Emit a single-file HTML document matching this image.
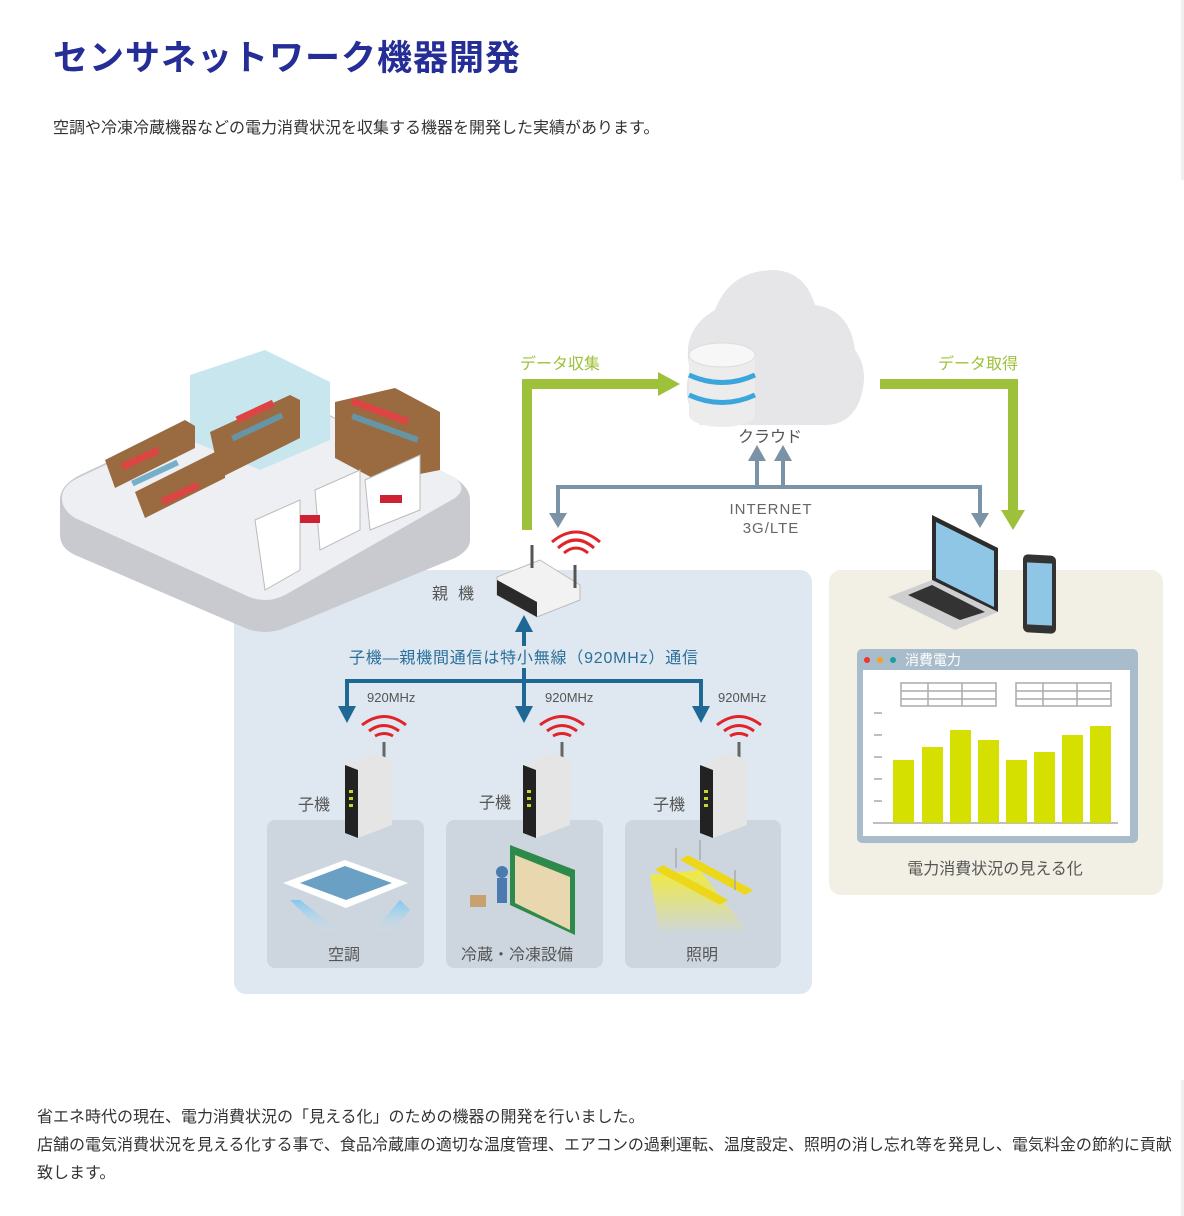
<!DOCTYPE html>
<html><head><meta charset="utf-8"><style>
body{margin:0;width:1184px;height:1216px;background:#fff;position:relative;overflow:hidden;font-family:"Liberation Sans","Noto Sans CJK JP",sans-serif;}
.t{position:absolute;white-space:nowrap;}
</style></head><body>
<div style="position:absolute;left:1181px;top:0;width:3px;height:180px;background:#eef0f3"></div>
<div style="position:absolute;left:1181px;top:1080px;width:3px;height:136px;background:#eef0f3"></div>
<div class="t" style="left:53px;top:30px;font-size:35px;color:#252d96;font-weight:bold;letter-spacing:1px">センサネットワーク機器開発</div>
<div class="t" style="left:53px;top:114px;font-size:16px;color:#333">空調や冷凍冷蔵機器などの電力消費状況を収集する機器を開発した実績があります。</div>
<svg style="position:absolute;left:0;top:0" width="1184" height="1216" font-family="Liberation Sans, Noto Sans CJK JP, sans-serif">
<defs>
<linearGradient id="ac" x1="0" y1="0" x2="0" y2="1"><stop offset="0" stop-color="#7fc8f0"/><stop offset="1" stop-color="#cfe0ec" stop-opacity="0"/></linearGradient>
<linearGradient id="lt" x1="0" y1="0" x2="0" y2="1"><stop offset="0" stop-color="#f0ea40"/><stop offset="1" stop-color="#f0ea40" stop-opacity="0"/></linearGradient>
</defs>
<rect x="234" y="570" width="578" height="424" rx="12" fill="#dfe8f0"/>
<rect x="829" y="570" width="334" height="325" rx="12" fill="#f2f0e4"/>
<rect x="267" y="820" width="157" height="148" rx="8" fill="#cdd6df"/>
<rect x="446" y="820" width="157" height="148" rx="8" fill="#cdd6df"/>
<rect x="625" y="820" width="156" height="148" rx="8" fill="#cdd6df"/>
<path d="M60 500 Q60 485 80 475 L250 395 Q270 385 290 395 L455 478 Q470 488 470 500 L470 540 Q470 550 455 558 L285 628 Q265 636 245 628 L75 555 Q60 548 60 535 Z" fill="#c9cacf"/>
<path d="M62 498 Q62 485 80 477 L250 397 Q270 387 290 397 L455 478 Q468 488 455 498 L285 595 Q265 605 245 595 L75 518 Q62 510 62 498Z" fill="#eeeff2"/>
<path d="M190 375 L265 350 L330 382 L330 440 L260 470 L190 440Z" fill="#c8e6ee"/>
<g fill="#9a6a40"><path d="M105 460 L185 420 L195 426 L195 448 L115 488Z"/><path d="M135 492 L215 452 L225 458 L225 478 L145 518Z"/><path d="M210 432 L290 395 L300 400 L300 438 L220 478Z"/><path d="M335 402 L395 388 L440 412 L440 470 L380 482 L335 458Z"/></g>
<g fill="#5aa0c0" opacity=".8"><rect x="130" y="470" width="50" height="6" transform="rotate(-25 155 473)"/><rect x="230" y="425" width="55" height="6" transform="rotate(-25 255 428)"/><rect x="350" y="425" width="70" height="6" transform="rotate(20 385 428)"/></g>
<g fill="#d44"><rect x="120" y="455" width="40" height="7" transform="rotate(-25 140 458)"/><rect x="235" y="408" width="40" height="7" transform="rotate(-25 255 411)"/><rect x="350" y="408" width="60" height="7" transform="rotate(20 380 411)"/><rect x="160" y="490" width="40" height="7" transform="rotate(-25 180 493)"/></g>
<g fill="#fff" stroke="#bbb"><path d="M255 520 L300 500 L300 570 L265 590Z"/><path d="M315 490 L360 470 L360 530 L320 550Z"/><path d="M365 480 L420 455 L420 510 L370 530Z"/></g>
<g fill="#c23"><rect x="300" y="515" width="20" height="8"/><rect x="380" y="495" width="22" height="8"/></g>
<path d="M700 425 Q680 400 690 370 Q680 330 715 310 Q730 270 775 270 Q805 272 815 305 Q850 310 855 350 Q870 370 860 400 Q850 425 825 425 Z" fill="#e6e6e8"/>
<ellipse cx="722" cy="355" rx="33" ry="12" fill="#f3f3f3"/>
<rect x="689" y="355" width="66" height="60" fill="#ececec"/>
<ellipse cx="722" cy="415" rx="33" ry="12" fill="#ececec"/>
<path d="M689 375 Q722 390 755 375 M689 395 Q722 410 755 395" fill="none" stroke="#3aa6dc" stroke-width="5"/>
<ellipse cx="722" cy="355" rx="33" ry="12" fill="#f7f7f7" stroke="#ddd"/>
<g fill="none" stroke="#9dc13a" stroke-width="10"><path d="M527 530 V384 H660"/><path d="M880 384 H1013 V512"/></g>
<g fill="#9dc13a"><path d="M658 372 L680 384 L658 396Z"/><path d="M1001 510 L1013 530 L1025 510Z"/></g>
<text x="520" y="369" font-size="16" fill="#9dc13a">データ収集</text>
<text x="938" y="369" font-size="16" fill="#9dc13a">データ取得</text>
<text x="738" y="442" font-size="16" fill="#555">クラウド</text>
<g fill="none" stroke="#7b93a6" stroke-width="4"><path d="M558 515 V487 H980 V515"/><path d="M757 487 V458 M783 487 V458"/></g>
<g fill="#7b93a6"><path d="M549 513 L558 528 L567 513Z"/><path d="M971 513 L980 528 L989 513Z"/><path d="M748 461 L757 445 L766 461Z"/><path d="M774 461 L783 445 L792 461Z"/></g>
<text x="771" y="514" font-size="15" fill="#666" text-anchor="middle" letter-spacing="1">INTERNET</text>
<text x="771" y="533" font-size="15" fill="#666" text-anchor="middle" letter-spacing="1">3G/LTE</text>
<path d="M497 577 L540 560 L580 585 L580 600 L537 617 L497 595Z" fill="#f2f2f2" stroke="#bbb"/>
<path d="M497 580 L537 602 L537 617 L497 595Z" fill="#2a2a2a"/>
<line x1="575" y1="588" x2="575" y2="565" stroke="#555" stroke-width="3"/>
<line x1="532" y1="568" x2="532" y2="545" stroke="#555" stroke-width="3"/>
<g fill="none" stroke="#e3232a" stroke-width="3"><path d="M558 548 Q576 532 594 548"/><path d="M564 553 Q576 543 588 553"/><path d="M552 542 Q576 522 600 542"/></g>
<text x="432" y="599" font-size="16" fill="#555" letter-spacing="10">親機</text>
<g fill="none" stroke="#1f6794" stroke-width="4"><path d="M524 630 V646"/><path d="M347 710 V681 H701 V710 M524 668 V710"/></g>
<g fill="#1f6794"><path d="M515 632 L524 615 L533 632Z"/><path d="M338 706 L347 723 L356 706Z"/><path d="M515 706 L524 723 L533 706Z"/><path d="M692 706 L701 723 L710 706Z"/></g>
<text x="349" y="663" font-size="16" fill="#2a6f9a" textLength="349">子機—親機間通信は特小無線（920MHz）通信</text>
<g font-size="13" fill="#555"><text x="367" y="702">920MHz</text><text x="545" y="702">920MHz</text><text x="718" y="702">920MHz</text></g>
<g id="sub">
<g fill="none" stroke="#e3232a" stroke-width="3"><path d="M362 725 Q384 708 406 725"/><path d="M369 731 Q384 720 399 731"/><path d="M375 736 Q384 731 393 736"/></g>
<line x1="384" y1="742" x2="384" y2="762" stroke="#666" stroke-width="3"/>
<path d="M345 765 L375 753 L392 760 L392 825 L358 838 L345 833Z" fill="#e5e5e5"/>
<path d="M345 765 L358 770 L358 838 L345 833Z" fill="#222"/>
<g fill="#c7d82a"><rect x="349" y="790" width="4" height="3"/><rect x="349" y="797" width="4" height="3"/><rect x="349" y="804" width="4" height="3"/></g>
</g>
<use href="#sub" x="178"/><use href="#sub" x="355"/>
<g font-size="16" fill="#555"><text x="298" y="810">子機</text><text x="479" y="808">子機</text><text x="653" y="810">子機</text>
<text x="328" y="960">空調</text><text x="461" y="960">冷蔵・冷凍設備</text><text x="686" y="960">照明</text></g>
<path d="M290 900 L325 935 L345 935 L300 900Z" fill="url(#ac)"/>
<path d="M370 935 L400 900 L410 910 L390 935Z" fill="url(#ac)"/>
<path d="M283 883 L345 860 L408 883 L346 908Z" fill="#fff"/>
<path d="M300 883 L345 866 L392 883 L346 900Z" fill="#6aa0c4"/>
<path d="M510 845 L575 870 L575 935 L510 905Z" fill="#2e8a4a"/>
<path d="M515 855 L570 877 L570 930 L515 903Z" fill="#e9d7b0"/>
<circle cx="502" cy="872" r="6" fill="#4a7ab0"/><rect x="497" y="878" width="10" height="25" fill="#4a7ab0"/>
<rect x="470" y="895" width="16" height="12" fill="#c9a070"/>
<path d="M650 875 L700 870 L750 935 L660 935Z" fill="url(#lt)"/>
<path d="M655 870 L720 905 L728 900 L663 865Z" fill="#ecd818"/>
<path d="M680 860 L745 895 L753 890 L688 855Z" fill="#ecd818"/>
<g stroke="#aaa" stroke-width="1.5"><line x1="676" y1="848" x2="676" y2="868"/><line x1="700" y1="840" x2="700" y2="860"/><line x1="735" y1="870" x2="735" y2="890"/></g>
<path d="M932 515 L998 548 L998 612 L932 580Z" fill="#2c2c2c"/>
<path d="M936 522 L994 551 L994 607 L936 578Z" fill="#8fc6e6"/>
<path d="M888 597 L932 580 L998 612 L955 630Z" fill="#cfcfd2"/>
<path d="M908 595 L932 585 L985 612 L960 620Z" fill="#333"/>
<rect x="1023" y="555" width="33" height="78" rx="5" fill="#333" transform="skewY(3)" transform-origin="1040 594"/>
<rect x="1027" y="563" width="25" height="62" fill="#8fc6e6" transform="skewY(3)" transform-origin="1040 594"/>
<rect x="857" y="649" width="281" height="194" rx="5" fill="#a8bccb"/>
<rect x="863" y="670" width="267" height="166" fill="#fff"/>
<circle cx="867" cy="660" r="3" fill="#e33"/><circle cx="880" cy="660" r="3" fill="#f3a320"/><circle cx="893" cy="660" r="3" fill="#1aa098"/>
<text x="905" y="665" font-size="14" fill="#fff">消費電力</text>
<g fill="none" stroke="#aaa" stroke-width="1.5"><rect x="901" y="683" width="95" height="23"/><line x1="901" y1="691" x2="996" y2="691"/><line x1="901" y1="699" x2="996" y2="699"/><line x1="928" y1="683" x2="928" y2="706"/><line x1="962" y1="683" x2="962" y2="706"/>
<rect x="1016" y="683" width="95" height="23"/><line x1="1016" y1="691" x2="1111" y2="691"/><line x1="1016" y1="699" x2="1111" y2="699"/><line x1="1043" y1="683" x2="1043" y2="706"/><line x1="1077" y1="683" x2="1077" y2="706"/>
<line x1="873" y1="823" x2="1118" y2="823"/><path d="M874 713h8M874 735h8M874 757h8M874 779h8M874 801h8"/></g>
<g fill="#d6e000"><rect x="893" y="760" width="21" height="63"/><rect x="922" y="747" width="21" height="76"/><rect x="950" y="730" width="21" height="93"/><rect x="978" y="740" width="21" height="83"/><rect x="1006" y="760" width="21" height="63"/><rect x="1034" y="752" width="21" height="71"/><rect x="1062" y="735" width="21" height="88"/><rect x="1090" y="726" width="21" height="97"/></g>
<text x="995" y="874" font-size="16" fill="#555" text-anchor="middle">電力消費状況の見える化</text>
</svg>
<div class="t" style="left:37px;top:1104px;font-size:16px;color:#333;line-height:28px">省エネ時代の現在、電力消費状況の「見える化」のための機器の開発を行いました。<br>店舗の電気消費状況を見える化する事で、食品冷蔵庫の適切な温度管理、エアコンの過剰運転、温度設定、照明の消し忘れ等を発見し、電気料金の節約に貢献<br>致します。</div>
</body></html>
